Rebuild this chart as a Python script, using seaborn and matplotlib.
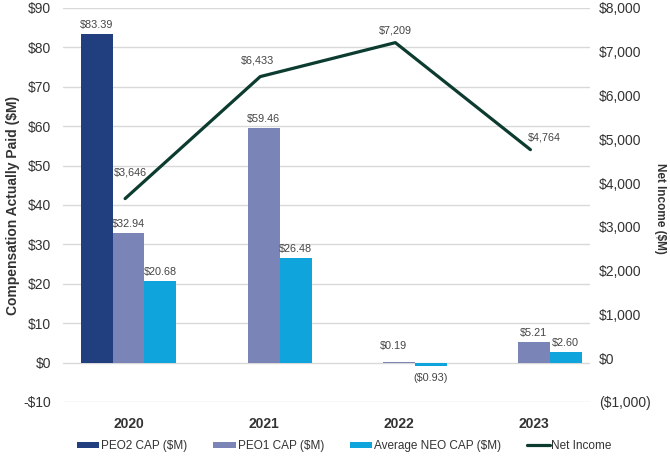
import matplotlib
matplotlib.use("Agg")
import matplotlib.pyplot as plt
from matplotlib.patches import Patch
from matplotlib.lines import Line2D
import seaborn as sns
import pandas as pd
import numpy as np

years = ["2020", "2021", "2022", "2023"]
series = ["PEO2 CAP ($M)", "PEO1 CAP ($M)", "Average NEO CAP ($M)"]
peo2_cap = [83.39, np.nan, np.nan, np.nan]
peo1_cap = [32.94, 59.46, 0.19, 5.21]
neo_cap = [20.68, 26.48, -0.93, 2.60]
net_income = [3646, 6433, 7209, 4764]
net_income_labels = ["$3,646", "$6,433", "$7,209", "$4,764"]
left_ticks = [-10, 0, 10, 20, 30, 40, 50, 60, 70, 80, 90]
right_ticks = [-1000, 0, 1000, 2000, 3000, 4000, 5000, 6000, 7000, 8000]

colors = ["#213f7e", "#7a84b6", "#0fa4dc"]
line_color = "#0c3b2f"

sns.set_theme(style="white")
plt.rcParams["font.family"] = ["Liberation Sans", "DejaVu Sans"]

df = pd.DataFrame({
    "Year": years * 3,
    "Series": np.repeat(series, len(years)),
    "Value": peo2_cap + peo1_cap + neo_cap,
})

fig = plt.figure(figsize=(6.7, 4.57), dpi=100)
ax = fig.add_axes([0.094, 0.1204, 0.787, 0.8621])

sns.barplot(data=df, x="Year", y="Value", hue="Series", hue_order=series,
            order=years, palette=colors, width=0.71, saturation=1,
            legend=False, ax=ax, errorbar=None, linewidth=0)

ax.set_ylim(-10, 90)
ax.set_yticks(left_ticks)
ax.set_yticklabels([f"-${abs(t)}" if t < 0 else f"${t}" for t in left_ticks],
                   fontsize=10, color="#333333")
ax.set_xlim(-0.485, 3.418)
ax.grid(axis="y", color="#d9d9d9", linewidth=1)
ax.set_axisbelow(True)
for s in ax.spines.values():
    s.set_visible(False)
ax.tick_params(axis="y", length=0, pad=8.5)
ax.tick_params(axis="x", length=0, pad=11)
for lbl in ax.get_xticklabels():
    lbl.set_fontweight("bold")
    lbl.set_fontsize(10)
    lbl.set_color("#333333")
ax.set_xlabel("")
ax.set_ylabel("Compensation Actually Paid ($M)", fontsize=10, fontweight="bold",
              color="#333333")
ax.yaxis.set_label_coords(-0.082, 0.5)

# bar value labels
def fmt(v):
    return f"(${abs(v):.2f})" if v < 0 else f"${v:.2f}"

for cont in ax.containers:
    for bar in cont:
        h = bar.get_height()
        if np.isnan(h):
            continue
        cx = bar.get_x() + bar.get_width() / 2
        if h < 0:
            ax.annotate(fmt(h), (cx, h), xytext=(0, -5), textcoords="offset points",
                        ha="center", va="top", fontsize=7.8, color="#444444")
        elif h < 1:
            ax.annotate(fmt(h), (cx - 0.04, h), xytext=(0, 8), textcoords="offset points",
                        ha="center", va="bottom", fontsize=7.8, color="#444444")
        else:
            ax.annotate(fmt(h), (cx, h), xytext=(0, 3), textcoords="offset points",
                        ha="center", va="bottom", fontsize=7.8, color="#444444")

ax2 = ax.twinx()
xpos = np.arange(len(years)) - 0.025
sns.lineplot(x=xpos, y=net_income, ax=ax2, color=line_color, linewidth=2.3)
ax2.set_ylim(-1000, 8000)
ax2.set_yticks(right_ticks)
ax2.set_yticklabels([f"(${abs(t):,})" if t < 0 else f"${t:,}" for t in right_ticks],
                    fontsize=10, color="#333333")
ax2.tick_params(axis="y", length=0, pad=6.5)
for s in ax2.spines.values():
    s.set_visible(False)
ax2.set_ylabel("Net Income ($M)", fontsize=8.5, fontweight="bold", color="#333333",
               rotation=270)
ax2.yaxis.set_label_coords(1.143, 0.49)

line_offsets = [(4, 15), (-2, 8), (0, 5), (10, 5)]
for x, y, t, off in zip(xpos, net_income, net_income_labels, line_offsets):
    ax2.annotate(t, (x, y), xytext=off, textcoords="offset points",
                 ha="center", va="bottom", fontsize=7.8, color="#444444")

handles = [Patch(facecolor=c, edgecolor="none", label=s) for c, s in zip(colors, series)]
handles.append(Line2D([0], [0], color=line_color, linewidth=2.3, label="Net Income"))
fig.legend(handles=handles, loc="center", bbox_to_anchor=(0.514, 0.024), ncol=4,
           frameon=False, fontsize=8.5, handlelength=1.9, handleheight=0.45,
           handletextpad=0.15, columnspacing=2.2, labelcolor="#333333")

fig.savefig("out.png", dpi=100)
